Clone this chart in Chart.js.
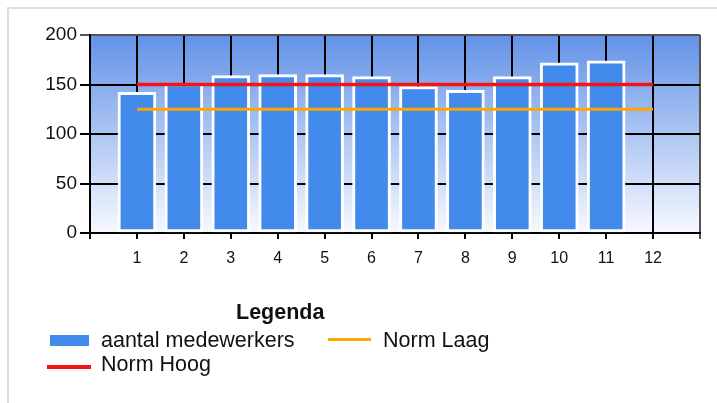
<!DOCTYPE html>
<html>
<head>
<meta charset="utf-8">
<script src="https://cdn.jsdelivr.net/npm/chart.js@4.4.1/dist/chart.umd.min.js"></script>
<style>
  body { margin: 0; background: #fff; font-family: "Liberation Sans", Arial, sans-serif; color: #111; }
  #frame { position: absolute; left: 7px; top: 7px; width: 712px; height: 398px;
           border-left: 2px solid #dedede; border-top: 2px solid #dedede; }
  #wrap { position: absolute; left: 0; top: 0; width: 717px; height: 403px; }
  #legend { position: absolute; left: 0; top: 0; width: 717px; height: 403px; pointer-events: none; }
  #legend .title { position: absolute; left: 236px; top: 302px; font-weight: bold; font-size: 21.5px; line-height: 1; }
  #legend .txt { position: absolute; font-size: 21.5px; line-height: 1; white-space: nowrap; }
  #legend .sym { position: absolute; }
</style>
</head>
<body>
<div id="frame"></div>
<div id="wrap"><canvas id="chart" width="717" height="403"></canvas></div>
<div id="legend"></div>
<script>
// months on the x axis
const months = [1, 2, 3, 4, 5, 6, 7, 8, 9, 10, 11, 12];
// number of employees per month (no value for month 12)
const aantalMedewerkers = [142, 151, 159, 160, 160, 158, 148, 144, 158, 172, 174];
const normHoog = [150, 150, 150, 150, 150, 150, 150, 150, 150, 150, 150, 150];
const normLaag = [125, 125, 125, 125, 125, 125, 125, 125, 125, 125, 125, 125];
const yTicks = [0, 50, 100, 150, 200];

Chart.defaults.font.family = '"Liberation Sans", Arial, sans-serif';
Chart.defaults.color = '#111';

const plotBackground = {
  id: 'plotBackground',
  beforeDraw(chart) {
    const { ctx, chartArea: a } = chart;
    const g = ctx.createLinearGradient(0, a.top, 0, a.bottom);
    g.addColorStop(0, '#6292e7');
    g.addColorStop(1, '#f7f9ff');
    ctx.save();
    ctx.fillStyle = g;
    ctx.fillRect(a.left, a.top, a.right - a.left, a.bottom - a.top);
    ctx.restore();
  }
};

const ctx = document.getElementById('chart').getContext('2d');
const chart = new Chart(ctx, {
  data: {
    datasets: [
      {
        type: 'line',
        label: 'Norm Hoog',
        data: months.map((m, i) => ({ x: m, y: normHoog[i] })),
        borderColor: '#f41414',
        borderWidth: 3.5,
        pointRadius: 0,
        order: 0,
      },
      {
        type: 'line',
        label: 'Norm Laag',
        data: months.map((m, i) => ({ x: m, y: normLaag[i] })),
        borderColor: '#ffa500',
        borderWidth: 3,
        pointRadius: 0,
        order: 1,
      },
      {
        type: 'bar',
        label: 'aantal medewerkers',
        data: aantalMedewerkers.map((v, i) => ({ x: months[i], y: v })),
        backgroundColor: '#428bec',
        borderColor: '#ffffff',
        borderWidth: 3,
        borderSkipped: false,
        barThickness: 38,
        order: 2,
      },
    ],
  },
  options: {
    responsive: false,
    animation: false,
    layout: { padding: { top: 35, right: 17, left: 0, bottom: 130 } },
    plugins: {
      legend: { display: false },
      tooltip: { enabled: false },
    },
    scales: {
      x: {
        type: 'linear',
        min: 0,
        max: 13,
        offset: false,
        afterBuildTicks: (s) => { s.ticks = [0, ...months, 13].map(v => ({ value: v })); },
        ticks: {
          font: { size: 16 },
          color: '#111',
          padding: 10,
          maxRotation: 0,
          callback: (v) => (v >= 1 && v <= 12 ? v : ''),
        },
        grid: {
          offset: false,
          color: (c) => (c.tick && c.tick.value === 13 ? '#555' : '#000'),
          lineWidth: 2,
          tickLength: 6,
        },
        border: { color: '#000', width: 2 },
        afterFit: (s) => { s.height = 40; },
      },
      y: {
        min: 0,
        max: 200,
        afterBuildTicks: (s) => { s.ticks = yTicks.map(v => ({ value: v })); },
        ticks: { font: { size: 19 }, color: '#111', padding: 3 },
        grid: {
          color: (c) => (c.tick && c.tick.value === 200 ? '#555' : '#000'),
          lineWidth: 2,
          tickLength: 10,
        },
        border: { color: '#000', width: 2 },
        afterFit: (s) => { s.width = 90; },
      },
    },
  },
  plugins: [plotBackground],
});

// legend built from the chart datasets
const legend = document.getElementById('legend');
const title = document.createElement('div');
title.className = 'title';
title.textContent = 'Legenda';
legend.appendChild(title);

const slots = {
  'aantal medewerkers': { sym: [50, 335, 39, 11], txt: [101, 330] },
  'Norm Laag': { sym: [328, 338, 43, 3], txt: [383, 330] },
  'Norm Hoog': { sym: [47, 365, 44, 4], txt: [101, 354] },
};
chart.data.datasets.forEach(ds => {
  const s = slots[ds.label];
  const sym = document.createElement('div');
  sym.className = 'sym';
  sym.style.left = s.sym[0] + 'px';
  sym.style.top = s.sym[1] + 'px';
  sym.style.width = s.sym[2] + 'px';
  sym.style.height = s.sym[3] + 'px';
  sym.style.background = ds.type === 'bar' ? ds.backgroundColor : ds.borderColor;
  legend.appendChild(sym);
  const t = document.createElement('div');
  t.className = 'txt';
  t.style.left = s.txt[0] + 'px';
  t.style.top = s.txt[1] + 'px';
  t.textContent = ds.label;
  legend.appendChild(t);
});
</script>
</body>
</html>
